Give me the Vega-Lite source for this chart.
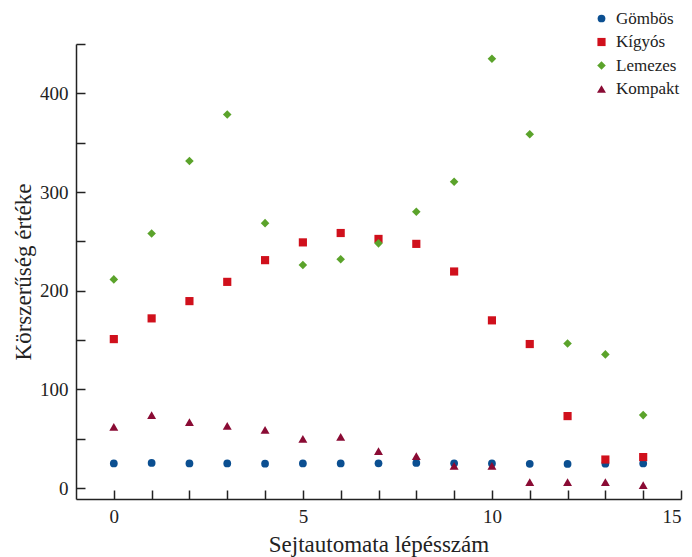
{
  "$schema": "https://vega.github.io/schema/vega-lite/v6.json",
  "width": 605,
  "height": 455,
  "autosize": {"type": "none"},
  "padding": {"left": 76, "top": 44, "right": 11, "bottom": 58},
  "background": "white",
  "config": {
    "view": {"stroke": null},
    "font": "Liberation Serif"
  },
  "data": {
    "values": [
      {"step": 0, "type": "Gömbös", "value": 25},
      {"step": 1, "type": "Gömbös", "value": 25.5},
      {"step": 2, "type": "Gömbös", "value": 25},
      {"step": 3, "type": "Gömbös", "value": 25},
      {"step": 4, "type": "Gömbös", "value": 24.8},
      {"step": 5, "type": "Gömbös", "value": 25},
      {"step": 6, "type": "Gömbös", "value": 25},
      {"step": 7, "type": "Gömbös", "value": 25.2},
      {"step": 8, "type": "Gömbös", "value": 25.5},
      {"step": 9, "type": "Gömbös", "value": 25.2},
      {"step": 10, "type": "Gömbös", "value": 25},
      {"step": 11, "type": "Gömbös", "value": 24.6},
      {"step": 12, "type": "Gömbös", "value": 24.5},
      {"step": 13, "type": "Gömbös", "value": 24.8},
      {"step": 14, "type": "Gömbös", "value": 25},
      {"step": 0, "type": "Kígyós", "value": 151},
      {"step": 1, "type": "Kígyós", "value": 172},
      {"step": 2, "type": "Kígyós", "value": 189.5},
      {"step": 3, "type": "Kígyós", "value": 209},
      {"step": 4, "type": "Kígyós", "value": 231},
      {"step": 5, "type": "Kígyós", "value": 249},
      {"step": 6, "type": "Kígyós", "value": 258.5},
      {"step": 7, "type": "Kígyós", "value": 252.5},
      {"step": 8, "type": "Kígyós", "value": 247.5},
      {"step": 9, "type": "Kígyós", "value": 219.5},
      {"step": 10, "type": "Kígyós", "value": 170},
      {"step": 11, "type": "Kígyós", "value": 146},
      {"step": 12, "type": "Kígyós", "value": 73},
      {"step": 13, "type": "Kígyós", "value": 29},
      {"step": 14, "type": "Kígyós", "value": 31.5},
      {"step": 0, "type": "Lemezes", "value": 211.5},
      {"step": 1, "type": "Lemezes", "value": 258},
      {"step": 2, "type": "Lemezes", "value": 331.5},
      {"step": 3, "type": "Lemezes", "value": 378.5},
      {"step": 4, "type": "Lemezes", "value": 268.5},
      {"step": 5, "type": "Lemezes", "value": 226},
      {"step": 6, "type": "Lemezes", "value": 232},
      {"step": 7, "type": "Lemezes", "value": 248},
      {"step": 8, "type": "Lemezes", "value": 280},
      {"step": 9, "type": "Lemezes", "value": 310.5},
      {"step": 10, "type": "Lemezes", "value": 435},
      {"step": 11, "type": "Lemezes", "value": 358.5},
      {"step": 12, "type": "Lemezes", "value": 146.5},
      {"step": 13, "type": "Lemezes", "value": 135.5},
      {"step": 14, "type": "Lemezes", "value": 74},
      {"step": 0, "type": "Kompakt", "value": 62},
      {"step": 1, "type": "Kompakt", "value": 74},
      {"step": 2, "type": "Kompakt", "value": 67},
      {"step": 3, "type": "Kompakt", "value": 63},
      {"step": 4, "type": "Kompakt", "value": 59},
      {"step": 5, "type": "Kompakt", "value": 50},
      {"step": 6, "type": "Kompakt", "value": 52},
      {"step": 7, "type": "Kompakt", "value": 37.5},
      {"step": 8, "type": "Kompakt", "value": 32.5},
      {"step": 9, "type": "Kompakt", "value": 22.5},
      {"step": 10, "type": "Kompakt", "value": 22.5},
      {"step": 11, "type": "Kompakt", "value": 6},
      {"step": 12, "type": "Kompakt", "value": 6},
      {"step": 13, "type": "Kompakt", "value": 6},
      {"step": 14, "type": "Kompakt", "value": 3}
    ]
  },
  "mark": {"type": "point", "filled": true, "opacity": 1},
  "encoding": {
    "x": {
      "field": "step",
      "type": "quantitative",
      "scale": {"domain": [-1, 15], "nice": false, "zero": false},
      "axis": {
        "title": "Sejtautomata lépésszám",
        "titleFont": "Liberation Serif",
        "titleFontSize": 23,
        "titleFontWeight": "normal",
        "titleColor": "#222",
        "titlePadding": 7,
        "values": [0,1,2,3,4,5,6,7,8,9,10,11,12,13,14,15],
        "labelExpr": "datum.value % 5 === 0 ? datum.label : ''",
        "labelFont": "Liberation Serif",
        "labelFontSize": 19,
        "labelColor": "#222",
        "labelPadding": 17,
        "grid": false,
        "domainColor": "#222",
        "domainWidth": 1.5,
        "tickColor": "#222",
        "tickWidth": 1.5,
        "tickSize": -9
      }
    },
    "y": {
      "field": "value",
      "type": "quantitative",
      "scale": {"domain": [-11, 450], "nice": false, "zero": false},
      "axis": {
        "title": "Körszerűség értéke",
        "titleFont": "Liberation Serif",
        "titleFontSize": 23,
        "titleFontWeight": "normal",
        "titleColor": "#222",
        "titlePadding": 4,
        "values": [0,50,100,150,200,250,300,350,400,450],
        "labelExpr": "datum.value % 100 === 0 ? datum.label : ''",
        "labelFont": "Liberation Serif",
        "labelFontSize": 19,
        "labelColor": "#222",
        "labelPadding": 17,
        "grid": false,
        "domainColor": "#222",
        "domainWidth": 1.5,
        "tickColor": "#222",
        "tickWidth": 1.5,
        "tickSize": -9
      }
    },
    "color": {
      "field": "type",
      "type": "nominal",
      "sort": ["Gömbös", "Kígyós", "Lemezes", "Kompakt"],
      "scale": {"domain": ["Gömbös", "Kígyós", "Lemezes", "Kompakt"], "range": ["#0b4f91", "#d0101c", "#5ba32b", "#8a0b34"]},
      "legend": {
        "title": null,
        "orient": "none",
        "legendX": 517,
        "legendY": -34,
        "labelFont": "Liberation Serif",
        "labelFontSize": 17,
        "labelColor": "#222",
        "rowPadding": 5.5,
        "symbolOffset": 0,
        "labelOffset": 6
      }
    },
    "shape": {
      "field": "type",
      "type": "nominal",
      "sort": ["Gömbös", "Kígyós", "Lemezes", "Kompakt"],
      "scale": {"domain": ["Gömbös", "Kígyós", "Lemezes", "Kompakt"], "range": ["circle", "square", "diamond", "triangle-up"]}
    },
    "size": {
      "field": "type",
      "type": "nominal",
      "sort": ["Gömbös", "Kígyós", "Lemezes", "Kompakt"],
      "scale": {"domain": ["Gömbös", "Kígyós", "Lemezes", "Kompakt"], "range": [60, 80, 45, 40]}
    }
  }
}
